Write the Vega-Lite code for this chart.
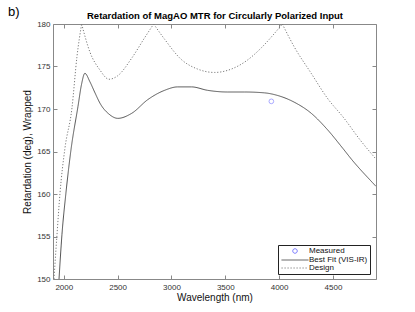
{
  "$schema": "https://vega.github.io/schema/vega-lite/v6.json",
  "width": 323,
  "height": 255,
  "autosize": "none",
  "padding": {"left": 53, "top": 24, "right": 39, "bottom": 33},
  "background": "white",
  "title": {"text": "b)", "anchor": "start", "frame": "group", "fontSize": 13, "fontWeight": "normal", "font": "Liberation Sans", "color": "#000", "dx": -45, "dy": 12},
  "config": {
    "view": {"stroke": "#888", "strokeWidth": 1},
    "font": "Liberation Sans",
    "axis": {"grid": false, "domain": false, "tickColor": "#888", "tickSize": -4, "labelFontSize": 8, "labelColor": "#333", "titleFontSize": 10, "titleFontWeight": "normal", "titleColor": "#111", "labelFont": "Liberation Sans", "titleFont": "Liberation Sans"}
  },
  "datasets": {
    "lines": [
      {"series": "Design", "seg": "d1", "wl": 1909, "ret": 150.0},
      {"series": "Design", "seg": "d1", "wl": 1937, "ret": 155.2},
      {"series": "Design", "seg": "d1", "wl": 1965, "ret": 160.1},
      {"series": "Design", "seg": "d1", "wl": 2010, "ret": 165.3},
      {"series": "Design", "seg": "d1", "wl": 2076, "ret": 170.1},
      {"series": "Design", "seg": "d1", "wl": 2122, "ret": 176.1},
      {"series": "Design", "seg": "d1", "wl": 2166, "ret": 180.0},
      {"series": "Design", "seg": "d2", "wl": 2166, "ret": 180.0},
      {"series": "Design", "seg": "d2", "wl": 2243, "ret": 176.7},
      {"series": "Design", "seg": "d2", "wl": 2335, "ret": 174.6},
      {"series": "Design", "seg": "d2", "wl": 2420, "ret": 173.5},
      {"series": "Design", "seg": "d2", "wl": 2500, "ret": 173.9},
      {"series": "Design", "seg": "d2", "wl": 2632, "ret": 176.0},
      {"series": "Design", "seg": "d2", "wl": 2752, "ret": 178.4},
      {"series": "Design", "seg": "d2", "wl": 2835, "ret": 180.0},
      {"series": "Design", "seg": "d3", "wl": 2835, "ret": 180.0},
      {"series": "Design", "seg": "d3", "wl": 2937, "ret": 178.2},
      {"series": "Design", "seg": "d3", "wl": 3094, "ret": 175.8},
      {"series": "Design", "seg": "d3", "wl": 3243, "ret": 174.7},
      {"series": "Design", "seg": "d3", "wl": 3400, "ret": 174.3},
      {"series": "Design", "seg": "d3", "wl": 3557, "ret": 174.7},
      {"series": "Design", "seg": "d3", "wl": 3700, "ret": 175.7},
      {"series": "Design", "seg": "d3", "wl": 3835, "ret": 177.2},
      {"series": "Design", "seg": "d3", "wl": 3937, "ret": 178.6},
      {"series": "Design", "seg": "d3", "wl": 4030, "ret": 180.0},
      {"series": "Design", "seg": "d4", "wl": 4030, "ret": 180.0},
      {"series": "Design", "seg": "d4", "wl": 4141, "ret": 177.3},
      {"series": "Design", "seg": "d4", "wl": 4298, "ret": 174.2},
      {"series": "Design", "seg": "d4", "wl": 4447, "ret": 171.3},
      {"series": "Design", "seg": "d4", "wl": 4604, "ret": 168.9},
      {"series": "Design", "seg": "d4", "wl": 4750, "ret": 166.4},
      {"series": "Design", "seg": "d4", "wl": 4900, "ret": 164.1},
      {"series": "Best Fit (VIS-IR)", "seg": "f", "wl": 1956, "ret": 150.0},
      {"series": "Best Fit (VIS-IR)", "seg": "f", "wl": 1983, "ret": 155.2},
      {"series": "Best Fit (VIS-IR)", "seg": "f", "wl": 2020, "ret": 160.1},
      {"series": "Best Fit (VIS-IR)", "seg": "f", "wl": 2067, "ret": 165.2},
      {"series": "Best Fit (VIS-IR)", "seg": "f", "wl": 2132, "ret": 170.3},
      {"series": "Best Fit (VIS-IR)", "seg": "f", "wl": 2165, "ret": 172.9},
      {"series": "Best Fit (VIS-IR)", "seg": "f", "wl": 2196, "ret": 174.2},
      {"series": "Best Fit (VIS-IR)", "seg": "f", "wl": 2243, "ret": 173.2},
      {"series": "Best Fit (VIS-IR)", "seg": "f", "wl": 2290, "ret": 171.9},
      {"series": "Best Fit (VIS-IR)", "seg": "f", "wl": 2340, "ret": 170.6},
      {"series": "Best Fit (VIS-IR)", "seg": "f", "wl": 2420, "ret": 169.4},
      {"series": "Best Fit (VIS-IR)", "seg": "f", "wl": 2502, "ret": 168.9},
      {"series": "Best Fit (VIS-IR)", "seg": "f", "wl": 2632, "ret": 169.5},
      {"series": "Best Fit (VIS-IR)", "seg": "f", "wl": 2780, "ret": 171.1},
      {"series": "Best Fit (VIS-IR)", "seg": "f", "wl": 2937, "ret": 172.2},
      {"series": "Best Fit (VIS-IR)", "seg": "f", "wl": 3058, "ret": 172.6},
      {"series": "Best Fit (VIS-IR)", "seg": "f", "wl": 3187, "ret": 172.6},
      {"series": "Best Fit (VIS-IR)", "seg": "f", "wl": 3335, "ret": 172.2},
      {"series": "Best Fit (VIS-IR)", "seg": "f", "wl": 3520, "ret": 172.0},
      {"series": "Best Fit (VIS-IR)", "seg": "f", "wl": 3678, "ret": 172.0},
      {"series": "Best Fit (VIS-IR)", "seg": "f", "wl": 3863, "ret": 171.9},
      {"series": "Best Fit (VIS-IR)", "seg": "f", "wl": 3984, "ret": 171.6},
      {"series": "Best Fit (VIS-IR)", "seg": "f", "wl": 4141, "ret": 170.8},
      {"series": "Best Fit (VIS-IR)", "seg": "f", "wl": 4298, "ret": 169.5},
      {"series": "Best Fit (VIS-IR)", "seg": "f", "wl": 4447, "ret": 167.6},
      {"series": "Best Fit (VIS-IR)", "seg": "f", "wl": 4590, "ret": 165.4},
      {"series": "Best Fit (VIS-IR)", "seg": "f", "wl": 4678, "ret": 164.0},
      {"series": "Best Fit (VIS-IR)", "seg": "f", "wl": 4863, "ret": 161.4},
      {"series": "Best Fit (VIS-IR)", "seg": "f", "wl": 4900, "ret": 160.9}
    ],
    "measured": [
      {"series": "Measured", "wl": 3928, "ret": 170.9}
    ]
  },
  "layer": [
    {
      "data": {"name": "lines"},
      "mark": {"type": "line", "strokeWidth": 1, "clip": true, "interpolate": "monotone"},
      "encoding": {
        "x": {"field": "wl", "type": "quantitative", "scale": {"domain": [1900, 4900], "nice": false, "zero": false},
              "axis": {"orient": "bottom", "values": [2000, 2500, 3000, 3500, 4000, 4500], "title": "Wavelength (nm)", "labelPadding": 8, "titlePadding": 1, "format": "d"}},
        "y": {"field": "ret", "type": "quantitative", "scale": {"domain": [150, 180], "nice": false, "zero": false},
              "axis": {"orient": "left", "values": [150, 155, 160, 165, 170, 175, 180], "title": "Retardation (deg), Wrapped", "labelPadding": 7, "titlePadding": 4}},
        "color": {"field": "series", "type": "nominal",
                  "scale": {"domain": ["Measured", "Best Fit (VIS-IR)", "Design"], "range": ["#6a6aff", "#555555", "#7a7a7a"]},
                  "legend": {"title": null, "orient": "none", "legendX": 225, "legendY": 221, "fillColor": "white", "strokeColor": "#222", "padding": 2, "labelFontSize": 8, "labelColor": "#111", "rowPadding": 0, "symbolSize": 36, "symbolOffset": 11, "labelOffset": 10, "symbolStrokeWidth": 1,
                    "encode": {"symbols": {"update": {
                      "shape": {"signal": "datum.value === 'Measured' ? 'circle' : 'M-4.5,0H4.5'"},
                      "strokeDash": {"signal": "datum.value === 'Design' ? [1.2, 1.8] : [1, 0]"},
                      "fill": {"value": "transparent"},
                      "size": {"signal": "datum.value === 'Measured' ? 20 : 36"}
                    }}}}},
        "strokeDash": {"field": "series", "type": "nominal", "scale": {"domain": ["Best Fit (VIS-IR)", "Design"], "range": [[1, 0], [1.2, 1.8]]}, "legend": null},
        "detail": {"field": "seg", "type": "nominal"},
        "order": {"field": "wl", "type": "quantitative"}
      }
    },
    {
      "data": {"name": "measured"},
      "mark": {"type": "point", "filled": false, "size": 22, "strokeWidth": 0.8},
      "encoding": {
        "x": {"field": "wl", "type": "quantitative", "axis": {"orient": "top", "values": [2000, 2500, 3000, 3500, 4000, 4500], "labels": false, "title": "Retardation of MagAO MTR for Circularly Polarized Input", "titleFontWeight": "bold", "titleFontSize": 9.5, "titleColor": "#000", "titlePadding": 3}},
        "y": {"field": "ret", "type": "quantitative", "axis": {"orient": "right", "values": [150, 155, 160, 165, 170, 175, 180], "labels": false, "title": null}},
        "color": {"field": "series", "type": "nominal"}
      }
    }
  ]
}
